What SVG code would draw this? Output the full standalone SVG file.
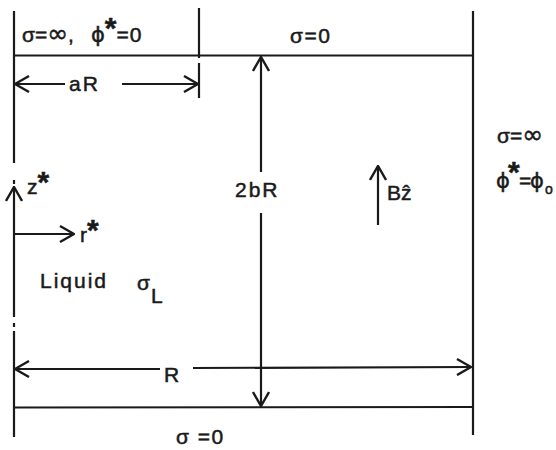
<svg xmlns="http://www.w3.org/2000/svg" width="556" height="450" viewBox="0 0 556 450">
<style>
.ln{stroke:#1a1a1a;stroke-width:2.2;fill:none;stroke-linecap:butt}
.ar{stroke:#1a1a1a;stroke-width:2.2;fill:none;marker-end:url(#ah)}
text{font-family:"Liberation Sans","DejaVu Sans",sans-serif;font-size:21px;fill:#1a1a1a;stroke:#1a1a1a;stroke-width:0.5}
.st{font-weight:bold;font-size:30px}
.inf{font-family:"DejaVu Sans",sans-serif;font-size:25px}
.phi{font-family:"DejaVu Sans",sans-serif}
</style>
<defs>
<marker id="ah" viewBox="0 0 16 18" refX="15" refY="9" markerWidth="16" markerHeight="18" orient="auto" markerUnits="userSpaceOnUse">
<path d="M1,1 L15,9 L1,17" fill="none" stroke="#1a1a1a" stroke-width="2.4"/>
</marker>
</defs>
<rect width="556" height="450" fill="#ffffff"/>

<g id="walls">
<line class="ln" x1="14" y1="11" x2="14" y2="163"/>
<line class="ln" x1="14" y1="180" x2="14" y2="184"/>
<line class="ln" x1="14" y1="323" x2="14" y2="327"/>
<line class="ln" x1="14" y1="331" x2="14" y2="437"/>
<line class="ln" x1="13" y1="55.5" x2="473" y2="55.5"/>
<line class="ln" x1="199" y1="8" x2="199" y2="58"/>
<line class="ln" x1="199" y1="63" x2="199" y2="98"/>
<line class="ln" x1="473" y1="11" x2="473" y2="435"/>
<line class="ln" x1="13" y1="407.5" x2="473" y2="407"/>
</g>

<g id="connectors">
<line class="ar" x1="65" y1="84" x2="15" y2="84"/>
<line class="ar" x1="122" y1="84" x2="198" y2="84"/>
<line class="ar" x1="261" y1="172" x2="261" y2="57"/>
<line class="ar" x1="261" y1="213" x2="261" y2="406"/>
<line class="ar" x1="160" y1="369" x2="15" y2="369"/>
<line class="ar" x1="193" y1="368" x2="471" y2="367"/>
<line class="ar" x1="14" y1="317" x2="14" y2="187"/>
<line class="ar" x1="14" y1="234" x2="74" y2="234"/>
<line class="ar" x1="378" y1="225" x2="378" y2="166"/>
</g>

<g id="top-left-label">
<text y="42"><tspan x="22">σ=</tspan><tspan class="inf">∞</tspan><tspan>,</tspan><tspan x="91" class="phi">ϕ</tspan><tspan class="st" dy="-4">*</tspan><tspan dy="4" letter-spacing="1">=0</tspan></text>
</g>
<g id="top-right-label"><text x="290" y="43" letter-spacing="1.5">σ=0</text></g>
<g id="aR-label"><text x="69" y="91" letter-spacing="2">aR</text></g>
<g id="z-label"><text y="194"><tspan x="27">z</tspan><tspan class="st" dy="-2">*</tspan></text></g>
<g id="r-label"><text y="242"><tspan x="80">r</tspan><tspan class="st" dy="-2">*</tspan></text></g>
<g id="liquid-label"><text x="40" y="288" letter-spacing="2">Liquid</text>
<text x="137" y="290">σ<tspan x="151" y="303">L</tspan></text></g>
<g id="2bR-label"><text x="235" y="197" letter-spacing="2">2bR</text></g>
<g id="B-label"><text x="387" y="200">Bẑ</text></g>
<g id="right-label">
<text y="143"><tspan x="497">σ=</tspan><tspan class="inf">∞</tspan></text>
<text y="188"><tspan x="496" class="phi">ϕ</tspan><tspan x="508" class="st" font-size="26" dy="-6">*</tspan><tspan x="519" dy="6">=</tspan><tspan x="530" class="phi">ϕ</tspan><tspan x="545" font-size="14" dy="6">o</tspan></text>
</g>
<g id="R-label"><text x="164" y="382">R</text></g>
<g id="bottom-label"><text x="176" y="444" letter-spacing="1.5">σ =0</text></g>
</svg>
